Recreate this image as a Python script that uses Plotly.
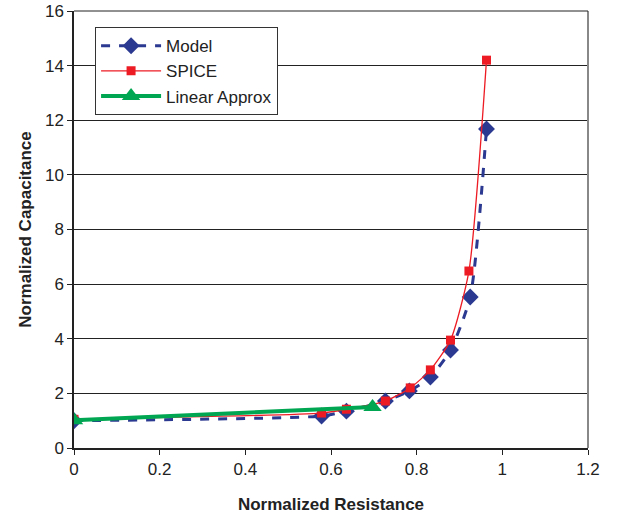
import plotly.graph_objects as go

model_x = [0.0, 0.578, 0.636, 0.727, 0.783, 0.832, 0.879, 0.925, 0.963]
model_y = [1.0, 1.17, 1.35, 1.72, 2.09, 2.6, 3.59, 5.53, 11.68]
spice_x = [0.0, 0.578, 0.636, 0.727, 0.785, 0.832, 0.879, 0.922, 0.963]
spice_y = [1.05, 1.28, 1.42, 1.72, 2.2, 2.86, 3.95, 6.48, 14.2]
lin_x = [0.0, 0.697]
lin_y = [1.02, 1.5]

fig = go.Figure()
fig.add_trace(go.Scatter(x=model_x, y=model_y, name="Model", mode="lines+markers",
                         line=dict(color="#2B3990", width=3, dash="dash", shape="spline", smoothing=0.6),
                         marker=dict(symbol="diamond", size=13, color="#2B3990")))
fig.add_trace(go.Scatter(x=spice_x, y=spice_y, name="SPICE", mode="lines+markers",
                         line=dict(color="#ED1C24", width=1.3, shape="spline", smoothing=0.6),
                         marker=dict(symbol="square", size=9, color="#ED1C24")))
fig.add_trace(go.Scatter(x=lin_x, y=lin_y, name="Linear Approx", mode="lines+markers",
                         line=dict(color="#00A651", width=4),
                         marker=dict(symbol="triangle-up", size=16, color="#00A651")))

font = "Liberation Sans, Arial, sans-serif"
fig.update_layout(
    width=620, height=517,
    margin=dict(l=74, r=32, t=11, b=69),
    plot_bgcolor="white", paper_bgcolor="white",
    font=dict(family=font, size=17, color="#222"),
    showlegend=True,
    legend=dict(x=0.041, y=0.963, xanchor="left", yanchor="top",
                bgcolor="white", bordercolor="#333", borderwidth=1,
                font=dict(size=17), tracegroupgap=0, itemwidth=60),
    xaxis=dict(range=[0, 1.2], tickvals=[0, 0.2, 0.4, 0.6, 0.8, 1, 1.2],
               ticktext=["0", "0.2", "0.4", "0.6", "0.8", "1", "1.2"],
               showgrid=False, zeroline=False, showline=True, linecolor="#222", linewidth=1.5,
               ticks="outside", ticklen=5, tickcolor="#222", automargin=False,
               tickfont=dict(size=17),
               title=dict(text="<b>Normalized Resistance</b>", font=dict(size=17), standoff=20)),
    yaxis=dict(range=[0, 16], tickvals=list(range(0, 17, 2)),
               showgrid=True, gridcolor="#222", gridwidth=1, zeroline=False,
               showline=True, linecolor="#222", linewidth=1.5,
               ticks="outside", ticklen=5, tickcolor="#222", automargin=False,
               tickfont=dict(size=17),
               title=dict(text="<b>Normalized Capacitance</b>", font=dict(size=17), standoff=9)),
)
fig.add_shape(type="line", xref="paper", yref="paper", x0=1, x1=1, y0=0, y1=1,
              line=dict(color="#888", width=2))
fig.add_shape(type="line", xref="paper", yref="paper", x0=0, x1=1, y0=1, y1=1,
              line=dict(color="#222", width=1))
fig.write_html("out.html", config={"displayModeBar": False},
               post_script="document.body.style.margin='0px';document.body.style.overflow='hidden';")
